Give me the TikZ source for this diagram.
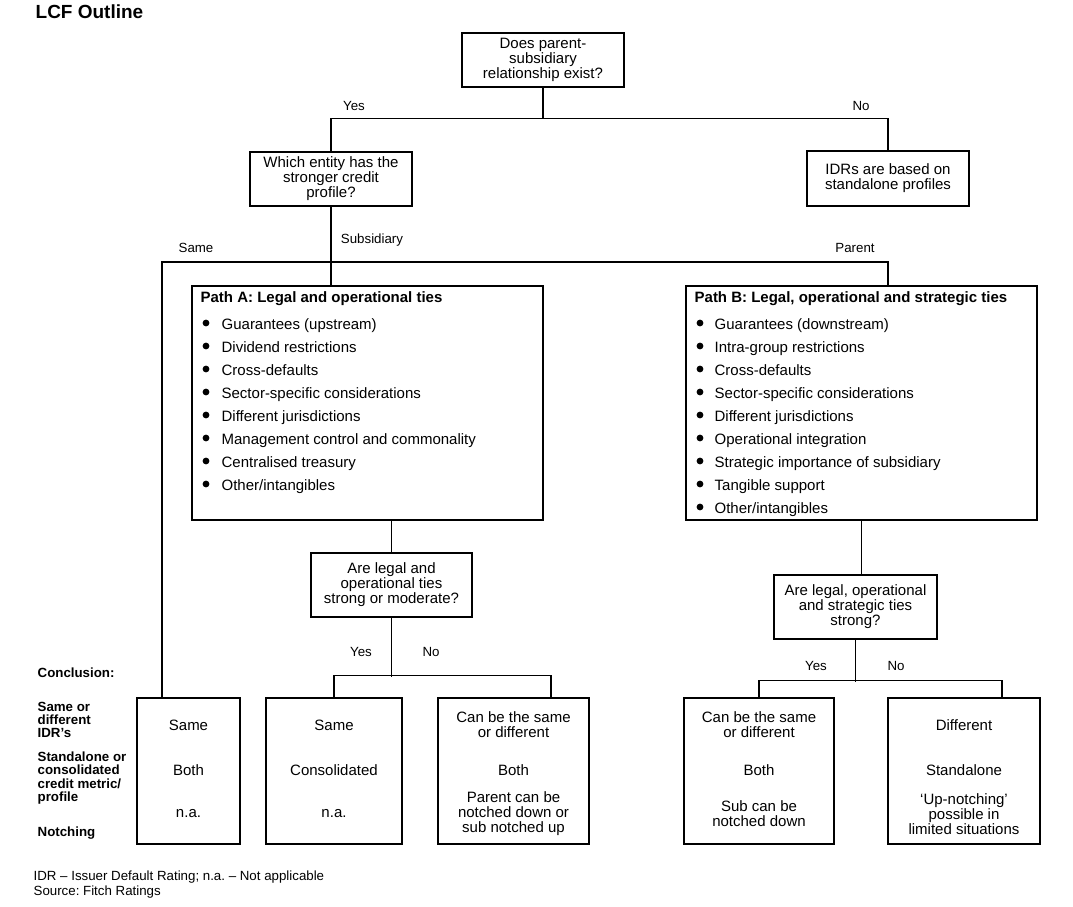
\documentclass[tikz,border=0pt]{standalone}
\usepackage{fontspec}
\setmainfont{Liberation Sans}
\frenchspacing
\newcommand{\txt}{\fontsize{15bp}{15bp}\selectfont}
\newcommand{\sml}{\fontsize{13.3bp}{13.3bp}\selectfont}
\tikzset{
  box/.style={draw, inner sep=0pt, align=center, font=\txt},
  word/.style={inner sep=0pt, align=center, font=\txt},
  lbl/.style={inner sep=0pt, font=\sml},
  side/.style={inner sep=0pt, anchor=west, align=left, font=\sml\bfseries},
}
\begin{document}
\begin{tikzpicture}[x=1bp, y=-1bp, line width=1.3bp]
  \useasboundingbox (0,0) rectangle (1073,907);
  \node[anchor=west, inner sep=0pt, font=\fontsize{19bp}{19bp}\selectfont\bfseries] (title) at (35,12) {LCF Outline};

  % questions
  \node[box, minimum width=162bp, minimum height=54bp] (exist) at (543,60) {Does parent-\\subsidiary\\relationship exist?};
  \node[box, minimum width=162bp, minimum height=54bp] (stronger) at (331,179) {Which entity has the\\stronger credit\\profile?};
  \node[box, minimum width=162bp, minimum height=55bp] (alone) at (888,178.5) {IDRs are based on\\standalone profiles};

  % paths
  \node[box, minimum width=351bp, minimum height=234bp] (pathA) at (367.5,403) {};
  \node[box, minimum width=351bp, minimum height=234bp] (pathB) at (861.5,403) {};
  \node[anchor=west, inner sep=0pt, font=\txt\bfseries] (headA) at (200,299) {Path A: Legal and operational ties};
  \node[anchor=west, inner sep=0pt, font=\txt\bfseries] (headB) at (694,299) {Path B: Legal, operational and strategic ties};
  \foreach \tie [count=\i from 0] in {Guarantees (upstream), Dividend restrictions, Cross-defaults, Sector-specific considerations, Different jurisdictions, Management control and commonality, Centralised treasury, Other/intangibles}
  {
    \fill (206,{323+23*\i}) circle (3.4bp);
    \node[word, anchor=base west] at (221,{329+23*\i}) {\tie};
  }
  \foreach \tie [count=\i from 0] in {Guarantees (downstream), Intra-group restrictions, Cross-defaults, Sector-specific considerations, Different jurisdictions, Operational integration, Strategic importance of subsidiary, Tangible support, Other/intangibles}
  {
    \fill (700,{323+23*\i}) circle (3.4bp);
    \node[word, anchor=base west] at (714,{329+23*\i}) {\tie};
  }

  \node[box, minimum width=161bp, minimum height=64bp] (qA) at (391.5,585) {Are legal and\\operational ties\\strong or moderate?};
  \node[box, minimum width=163bp, minimum height=64bp] (qB) at (855.5,607) {Are legal, operational\\and strategic ties\\strong?};

  % conclusions
  \node[box, minimum width=103bp, minimum height=146bp] (c1) at (188.5,771) {};
  \node[box, minimum width=136bp, minimum height=146bp] (c2) at (334,771) {};
  \node[box, minimum width=151bp, minimum height=146bp] (c3) at (513.5,771) {};
  \node[box, minimum width=150bp, minimum height=146bp] (c4) at (759,771) {};
  \node[box, minimum width=152bp, minimum height=146bp] (c5) at (964,771) {};

  \node[word] at (c1 |- 0,725) {Same};
  \node[word] at (c1 |- 0,770) {Both};
  \node[word] at (c1 |- 0,814) {n.a.};
  \node[word] at (c2 |- 0,725) {Same};
  \node[word] at (c2 |- 0,770) {Consolidated};
  \node[word] at (c2 |- 0,814) {n.a.};
  \node[word] at (c3 |- 0,725) {Can be the same\\or different};
  \node[word] at (c3 |- 0,770) {Both};
  \node[word] at (c3 |- 0,814) {Parent can be\\notched down or\\sub notched up};
  \node[word] at (c4 |- 0,725) {Can be the same\\or different};
  \node[word] at (c4 |- 0,770) {Both};
  \node[word] at (c4 |- 0,814) {Sub can be\\notched down};
  \node[word] at (c5 |- 0,725) {Different};
  \node[word] at (c5 |- 0,770) {Standalone};
  \node[word] at (c5 |- 0,814) {`Up-notching'\\possible in\\limited situations};

  % connectors
  \draw (exist.south) -- (exist.south |- 0,119);
  \draw (stronger.north) -- ++(0,-33) -| (alone.north);
  \draw (stronger.south) -- (pathA.north -| stronger.south);
  \draw (c1.north -| 162,0) -- (162,262) -| (pathB.north -| alone.south);
  \draw (pathA.south -| qA.north) -- (qA.north);
  \draw (qA.south) -- (qA.south |- 0,677);
  \draw (c2.north) -- ++(0,-22) -| (c3.north -| 551,0);
  \draw (pathB.south) -- (pathB.south |- qB.north);
  \draw (qB.south) -- (qB.south |- 0,682);
  \draw (c4.north) -- ++(0,-17) -| (c5.north -| 1002,0);

  % branch labels
  \node[lbl] at (354,106) {Yes};
  \node[lbl] at (861,106) {No};
  \node[lbl] at (196,248) {Same};
  \node[lbl] at (372,240) {Subsidiary};
  \node[lbl] at (855,248) {Parent};
  \node[lbl] at (361,652) {Yes};
  \node[lbl] at (431,652) {No};
  \node[lbl] at (816,666) {Yes};
  \node[lbl] at (896,666) {No};

  % row headings
  \node[side] at (37,673) {Conclusion:};
  \node[side] at (37,720) {Same or\\different\\IDR's};
  \node[side] at (37,778) {Standalone or\\consolidated\\credit metric/\\profile};
  \node[side] at (37,833) {Notching};

  \node[anchor=west, inner sep=0pt, align=left, font=\fontsize{13.3bp}{15bp}\selectfont] at (33,884.5) {IDR -- Issuer Default Rating; n.a. -- Not applicable\\Source: Fitch Ratings};
\end{tikzpicture}
\end{document}
